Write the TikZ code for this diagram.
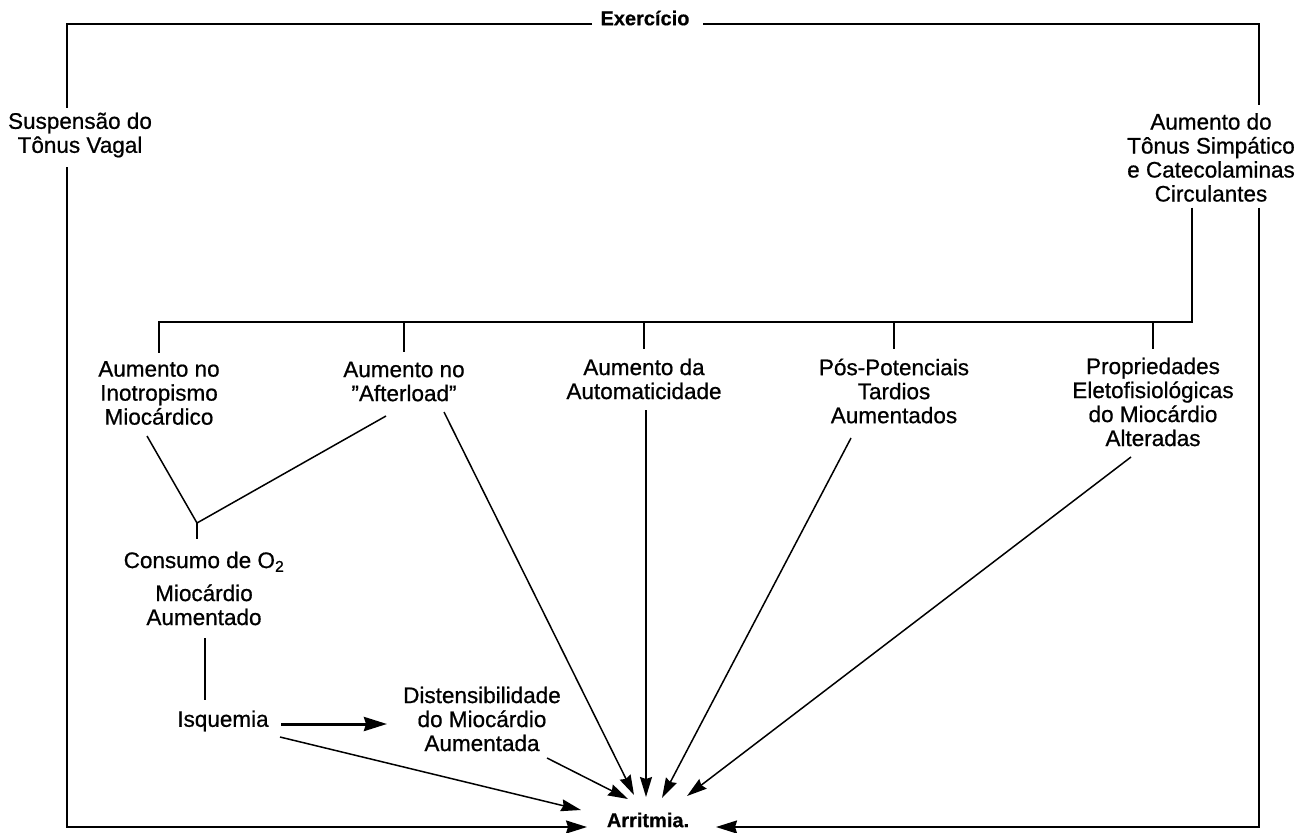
\documentclass[tikz,border=0pt]{standalone}
\usepackage{fontspec}
\setmainfont{Liberation Sans}
\newfontfamily\mediumsans{Liberation Sans}[FakeBold=0.7,Ligatures=TeX]
\newfontfamily\heavysans{Liberation Sans Bold}[FakeBold=0.5,Ligatures=TeX]
\usetikzlibrary{arrows.meta,calc}
\begin{document}
\begin{tikzpicture}[x=1pt,y=-1pt,
  txt/.style={align=center,inner sep=0pt,font=\mediumsans\fontsize{22.5}{24}\selectfont},
  bld/.style={inner sep=0pt,font=\heavysans\fontsize{20}{22}\selectfont},
  frame/.style={line width=2pt},
  thinline/.style={line width=1.5pt},
  tip/.style={-{Stealth[length=20pt,width=12pt,inset=2pt]}},
  bigtip/.style={-{Stealth[length=21pt,width=13pt,inset=2pt]}},
  thickarrow/.style={line width=3pt,-{Stealth[length=23pt,width=14pt,inset=2pt]}}]
\path[use as bounding box,fill=white] (0,0) rectangle (1297,832);

% nodes
\node[bld] (ex) at (645,18) {Exercício};
\node[txt] (sus) at (80,135) {Suspensão do\\Tônus Vagal};
\node[txt] (sim) at (1211,157.5) {Aumento do\\Tônus Simpático\\e Catecolaminas\\Circulantes};
\node[txt] (ino) at (159,393) {Aumento no\\Inotropismo\\Miocárdico};
\node[txt] (aft) at (404,381.5) {Aumento no\\”Afterload”};
\node[txt] (aut) at (644,379) {Aumento da\\Automaticidade};
\node[txt] (pos) at (894,391) {Pós-Potenciais\\Tardios\\Aumentados};
\node[txt] (pro) at (1153,402) {Propriedades\\Eletofisiológicas\\do Miocárdio\\Alteradas};
\node[txt] (con) at (204,588.5) {Consumo de O\textsubscript{2}\\[9pt]Miocárdio\\Aumentado};
\node[txt] (isq) at (223,721) {Isquemia};
\node[txt] (dis) at (482,719) {Distensibilidade\\do Miocárdio\\Aumentada};
\node[bld] (arr) at (648,820) {Arritmia.};

% helper coordinates
\coordinate (tl) at (67,24);
\coordinate (tr) at (1259,24);
\coordinate (bus) at (1192,322);
\coordinate (vj) at (197,523);

% outer frame
\draw[frame] ($(ex.center)+(-53,6)$) -- (tl) -- ($(sus.center)+(-13,-27)$);
\draw[frame,bigtip] ($(sus.center)+(-13,32)$) |- ($(arr.center)+(-61,7)$);
\draw[frame] ($(ex.center)+(58,6)$) -- (tr) -- ($(sim.center)+(48,-52)$);
\draw[frame,bigtip] ($(sim.center)+(48,50)$) |- ($(arr.center)+(68,7)$);

% bus
\draw[frame] ($(sim.center)+(-19,50)$) -- (bus) -| ($(ino.center)+(0,-40)$);
\draw[frame] (bus -| aft) -- ($(aft.center)+(0,-30)$);
\draw[frame] (bus -| aut) -- ($(aut.center)+(0,-30)$);
\draw[frame] (bus -| pos) -- ($(pos.center)+(0,-42)$);
\draw[frame] (bus -| pro) -- ($(pro.center)+(0,-53)$);

% oxygen consumption branch
\draw[thinline] ($(ino.center)+(-12,43)$) -- (vj) -- ($(aft.center)+(-18,34.5)$);
\draw[thinline] (vj) -- ($(con.center)+(-7,-49.5)$);
\draw[thinline] ($(con.center)+(1,49.5)$) -- ($(isq.center)+(-18,-21)$);
\draw[thickarrow] ($(isq.center)+(58,3)$) -- ($(dis.center)+(-95,5)$);

% arrows to Arritmia
\draw[thinline,tip] ($(isq.center)+(57,16)$) -- ($(arr.center)+(-67,-10)$);
\draw[thinline,tip] ($(dis.center)+(65,39)$) -- ($(arr.center)+(-20,-21)$);
\draw[thinline,tip] ($(aft.center)+(40,30.5)$) -- ($(arr.center)+(-14,-25)$);
\draw[thinline,tip] ($(aut.center)+(2,31)$) -- ($(arr.center)+(-2,-23)$);
\draw[thinline,tip] ($(pos.center)+(-43,47)$) -- ($(arr.center)+(14,-22)$);
\draw[thinline,tip] ($(pro.center)+(-22,55)$) -- ($(arr.center)+(39,-24)$);
\end{tikzpicture}
\end{document}
